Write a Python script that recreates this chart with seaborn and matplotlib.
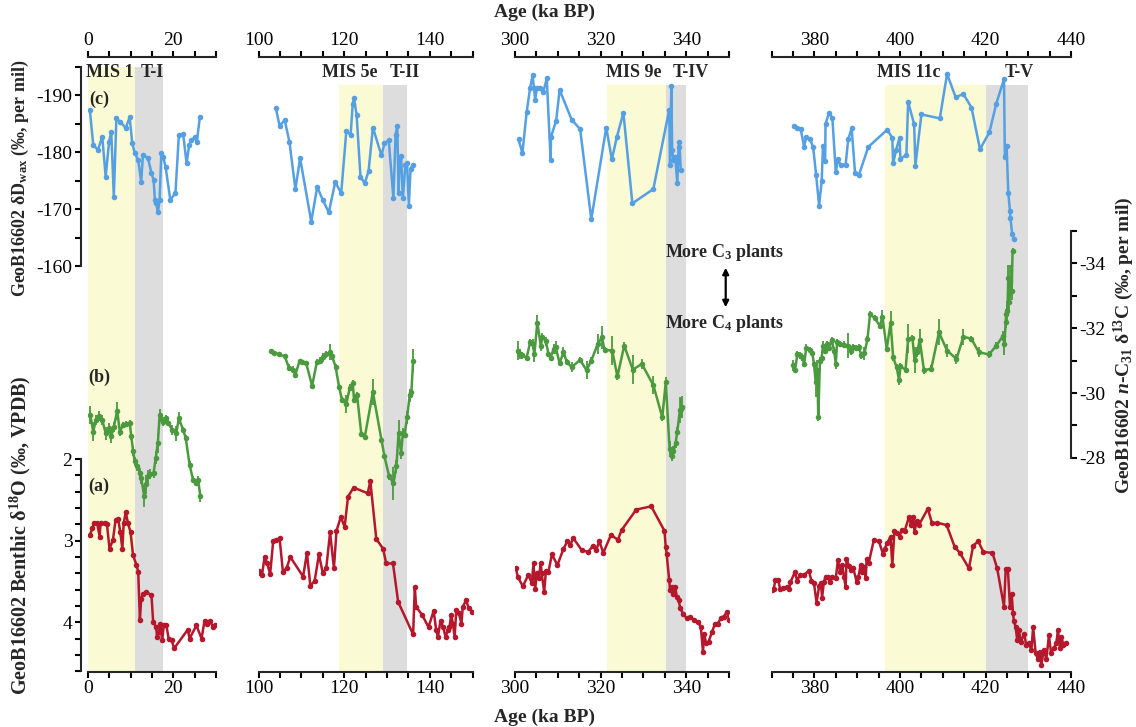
import numpy as np
import matplotlib.pyplot as plt
from matplotlib.patches import FancyArrowPatch
import seaborn as sns

# ---- values (age in ka BP) ----
# panel 1: 0-30 ka
age_dd_1 = [0.5, 1.3, 2.4, 3.4, 4.2, 5.0, 5.5, 6.1, 6.7, 7.6, 8.9, 9.8, 10.4, 11.0, 11.8, 12.5, 12.9, 14.1, 14.9,
            15.4, 15.7, 16.0, 16.4, 16.8, 17.2, 17.6, 18.2, 19.3, 20.5, 21.3, 22.3, 23.1, 23.7, 24.2, 25.0, 25.5, 26.2]
dd_1 = [-187.4, -181.2, -180.4, -182.7, -175.7, -181.8, -183.6, -172.2, -185.9, -185.3, -184.2, -186.1, -181.6,
        -179.8, -178.6, -174.8, -179.5, -178.9, -176.3, -175.1, -171.6, -171.0, -169.4, -171.6, -179.8, -179.2,
        -177.4, -171.6, -172.8, -183.0, -183.2, -178.0, -181.2, -182.1, -182.6, -181.8, -186.1]
age_c_1 = [0.6, 1.3, 1.9, 2.7, 3.4, 4.2, 5.0, 5.5, 6.1, 6.9, 7.5, 8.3, 9.0, 9.8, 10.2, 10.6, 11.0, 11.5, 12.2, 12.5,
           13.2, 13.6, 14.1, 14.6, 15.4, 15.9, 16.4, 16.8, 17.5, 18.2, 18.8, 19.8, 20.7, 21.3, 22.3, 22.9, 23.8,
           24.6, 25.2, 25.8, 26.3]
c_1 = [-29.32, -28.81, -29.17, -29.29, -29.17, -28.76, -28.91, -28.66, -28.96, -29.45, -28.81, -29.02, -29.05,
       -29.07, -28.66, -28.20, -27.89, -27.74, -27.54, -27.38, -26.82, -27.18, -27.43, -27.49, -27.54, -28.0,
       -28.46, -29.32, -29.12, -29.22, -29.07, -28.86, -28.76, -29.22, -28.86, -28.61, -27.79, -27.33, -27.23,
       -27.33, -26.82]
c_err_1 = [0.28, 0.3, 0.15, 0.15, 0.15, 0.2, 0.15, 0.2, 0.15, 0.28, 0.15, 0.1, 0.1, 0.1, 0.1, 0.15, 0.15, 0.15,
           0.15, 0.2, 0.35, 0.3, 0.2, 0.15, 0.15, 0.2, 0.3, 0.2, 0.15, 0.1, 0.1, 0.15, 0.23, 0.18, 0.1, 0.1, 0.1,
           0.1, 0.1, 0.1, 0.18]
age_o_1 = [0.5, 1.1, 1.5, 2.2, 2.8, 3.0, 4.1, 4.5, 5.1, 5.9, 6.5, 7.1, 7.6, 8.1, 8.4, 8.9, 9.4, 10.0, 10.6, 11.4,
           11.8, 12.2, 12.5, 12.9, 13.7, 14.9, 15.3, 16.0, 16.2, 16.7, 17.0, 17.4, 17.8, 18.4, 18.9, 19.6, 20.2,
           23.4, 23.8, 25.4, 26.6, 27.3, 27.9, 28.5, 29.3, 29.7]
o_1 = [2.93, 2.85, 2.78, 2.79, 2.95, 2.78, 2.79, 2.80, 3.10, 2.99, 2.75, 2.73, 2.89, 3.10, 2.79, 2.65, 2.79, 2.89,
       3.18, 3.30, 3.38, 3.97, 3.71, 3.65, 3.63, 3.67, 4.00, 4.06, 4.18, 4.12, 4.02, 4.22, 4.03, 4.04, 4.20, 4.22,
       4.32, 4.09, 4.20, 4.04, 4.20, 3.98, 4.02, 3.98, 4.06, 4.04]

# panel 2: 100-150 ka
age_dd_2 = [104.0, 104.9, 106.1, 107.2, 108.6, 109.7, 112.3, 113.7, 115.0, 116.4, 117.9, 119.3, 120.5, 121.5, 122.0,
            122.3, 122.9, 123.8, 124.8, 125.7, 126.7, 128.7, 129.4, 130.4, 131.5, 132.0, 132.4, 132.7, 133.0, 133.3,
            133.7, 134.3, 134.7, 135.1, 135.5, 136.0]
dd_2 = [-187.8, -184.6, -185.6, -181.8, -173.5, -178.9, -167.8, -173.9, -171.6, -169.4, -174.7, -172.8, -183.7,
        -183.0, -188.5, -189.4, -186.5, -175.7, -174.5, -176.7, -184.3, -179.4, -181.5, -182.1, -171.9, -183.0,
        -184.6, -172.9, -179.2, -179.3, -171.9, -177.8, -178.0, -170.5, -177.1, -177.7]
age_c_2 = [103.0, 103.7, 104.8, 106.1, 107.1, 108.0, 108.6, 109.6, 110.2, 111.1, 112.5, 113.6, 114.4, 115.0, 115.7,
           116.6, 117.2, 118.0, 118.8, 119.5, 120.5, 121.3, 122.0, 122.3, 123.0, 124.0, 124.8, 126.7, 128.7, 129.4,
           130.5, 131.5, 132.2, 132.7, 133.3, 133.7, 134.1, 134.7, 135.3, 135.7, 136.1]
c_2 = [-31.29, -31.24, -31.19, -31.13, -30.78, -30.72, -30.57, -31.0, -30.95, -30.93, -30.22, -30.95, -31.0,
       -31.10, -31.19, -31.26, -31.13, -30.80, -30.19, -29.78, -29.66, -30.17, -30.31, -29.78, -29.93, -28.74,
       -28.64, -30.03, -28.56, -28.05, -27.43, -27.21, -27.74, -28.76, -28.15, -28.76, -28.71, -29.25, -29.93,
       -30.03, -31.0]
c_err_2 = [0.05, 0.05, 0.05, 0.05, 0.1, 0.1, 0.12, 0.05, 0.05, 0.05, 0.1, 0.1, 0.1, 0.15, 0.1, 0.25, 0.1, 0.1,
           0.1, 0.1, 0.28, 0.1, 0.1, 0.1, 0.1, 0.05, 0.05, 0.4, 0.1, 0.1, 0.1, 0.5, 0.2, 0.4, 0.2, 0.15, 0.1, 0.2,
           0.2, 0.1, 0.35]
age_o_2 = [100.1, 100.4, 100.8, 101.4, 102.0, 102.7, 103.4, 104.1, 104.9, 105.7, 106.6, 107.4, 110.4, 111.3, 112.1,
           113.1, 114.1, 115.0, 115.8, 116.7, 117.6, 118.2, 119.2, 120.1, 120.9, 122.2, 125.5, 126.1, 127.5, 129.1,
           129.8, 131.4, 132.6, 136.1, 136.5, 136.8, 138.2, 139.7, 140.9, 141.5, 141.9, 142.5, 143.1, 143.7, 144.2,
           144.6, 145.0, 145.4, 145.8, 146.2, 146.8, 147.4, 147.7, 148.5, 149.1, 149.9]
o_2 = [3.37, 3.40, 3.42, 3.20, 3.28, 3.41, 3.01, 2.99, 2.97, 3.39, 3.33, 3.20, 3.44, 3.15, 3.56, 3.49, 3.17, 3.40,
       3.34, 2.90, 3.34, 2.88, 2.71, 2.83, 2.46, 2.35, 2.42, 2.27, 2.98, 3.10, 3.28, 3.28, 3.75, 4.15, 3.57, 3.81,
       3.91, 4.06, 3.86, 4.10, 4.18, 3.98, 4.06, 4.18, 4.10, 4.06, 3.91, 4.02, 4.18, 3.85, 3.89, 4.02, 3.81, 3.73,
       3.83, 3.87]

# panel 3: 300-350 ka
age_dd_3 = [300.8, 301.7, 302.7, 303.5, 304.1, 304.4, 304.7, 305.1, 305.8, 306.6, 307.4, 308.3, 308.4, 309.6, 310.4,
            313.2, 315.2, 317.8, 321.3, 322.6, 323.8, 325.3, 327.4, 332.3, 336.0, 336.2, 336.5, 336.7, 337.0, 337.4,
            337.9, 338.2, 338.4, 338.7]
dd_3 = [-182.2, -179.8, -187.0, -191.2, -193.5, -191.2, -189.2, -191.3, -191.2, -190.6, -192.9, -178.6, -182.7,
        -185.5, -190.9, -185.7, -184.0, -168.2, -184.3, -178.7, -182.7, -186.9, -171.0, -173.5, -187.4, -177.7,
        -191.6, -180.4, -178.6, -179.2, -174.6, -180.9, -181.8, -176.8]
age_c_3 = [300.6, 301.2, 301.7, 302.7, 303.5, 304.1, 304.5, 305.2, 306.0, 306.4, 307.2, 307.8, 308.3, 309.0, 309.5,
           310.4, 311.3, 312.1, 313.2, 315.2, 316.7, 317.8, 319.3, 320.3, 320.9, 322.7, 323.9, 325.5, 327.5, 329.6,
           332.3, 334.4, 335.2, 336.1, 336.6, 337.0, 337.5, 337.9, 338.5, 338.7, 339.1]
c_3 = [-31.31, -31.21, -31.16, -31.09, -31.56, -31.51, -31.21, -32.17, -31.46, -31.74, -31.59, -31.21, -31.09,
       -31.36, -31.41, -30.92, -31.26, -30.95, -30.80, -31.02, -30.70, -31.0, -31.51, -31.72, -31.33, -31.31,
       -30.51, -31.46, -30.72, -30.90, -30.24, -29.25, -30.34, -28.27, -28.05, -28.20, -28.46, -28.81, -29.47,
       -29.52, -29.57]
c_err_3 = [0.28, 0.15, 0.1, 0.1, 0.1, 0.15, 0.25, 0.25, 0.15, 0.1, 0.15, 0.1, 0.1, 0.15, 0.2, 0.1, 0.15, 0.1, 0.15,
           0.1, 0.28, 0.1, 0.3, 0.35, 0.1, 0.45, 0.1, 0.1, 0.45, 0.15, 0.28, 0.1, 0.15, 0.25, 0.15, 0.15, 0.15, 0.15,
           0.4, 0.3, 0.35]
age_o_3 = [300.2, 300.6, 301.8, 303.1, 303.9, 304.3, 304.7, 305.1, 305.5, 306.0, 306.2, 306.8, 307.2, 307.8, 308.6,
           309.9, 311.3, 312.2, 312.9, 313.6, 315.6, 317.1, 318.2, 318.9, 319.7, 320.6, 322.4, 324.0, 324.9, 328.3,
           331.8, 334.9, 335.2, 335.4, 336.0, 336.2, 336.6, 337.0, 337.4, 337.8, 338.2, 338.6, 339.3, 340.1, 340.9,
           341.7, 342.8, 343.4, 343.9, 344.2, 344.6, 345.2, 346.0, 346.7, 347.3, 348.1, 348.8, 349.5, 350.0]
o_3 = [3.34, 3.44, 3.56, 3.42, 3.52, 3.28, 3.59, 3.40, 3.46, 3.28, 3.40, 3.63, 3.37, 3.38, 3.17, 3.30, 3.10, 3.01,
       3.05, 2.97, 3.12, 3.14, 3.06, 3.12, 3.01, 3.15, 2.93, 2.99, 2.87, 2.62, 2.58, 2.88, 3.08, 3.16, 3.48, 3.61,
       3.57, 3.65, 3.57, 3.69, 3.73, 3.83, 3.90, 3.95, 3.93, 3.97, 4.00, 4.06, 4.36, 4.14, 4.26, 4.24, 4.12, 4.02,
       4.02, 3.95, 3.93, 3.87, 3.97]

# panel 4: 370-440 ka
age_dd_4 = [375.2, 376.0, 376.8, 377.6, 378.1, 379.0, 379.7, 380.4, 381.1, 381.7, 382.0, 382.5, 382.6, 383.4, 384.2,
            385.0, 385.5, 386.1, 387.3, 387.9, 388.7, 389.5, 390.4, 392.6, 397.0, 398.2, 398.4, 399.1, 399.9, 400.1,
            401.5, 401.9, 403.3, 403.6, 405.0, 409.3, 411.0, 413.0, 414.8, 416.7, 418.7, 420.9, 422.5, 424.3, 424.5,
            424.9, 425.3, 425.7, 425.8, 426.2, 426.6]
dd_4 = [-184.6, -184.3, -184.0, -180.9, -182.7, -182.2, -180.9, -176.0, -170.6, -174.9, -181.1, -178.4, -184.9,
        -186.9, -185.9, -176.5, -178.8, -177.7, -177.8, -182.2, -184.2, -176.3, -176.0, -180.9, -183.9, -182.5,
        -178.0, -180.4, -182.5, -178.8, -179.5, -188.8, -184.9, -177.6, -186.6, -185.9, -193.7, -189.6, -190.2,
        -187.8, -180.5, -183.5, -188.5, -192.8, -179.2, -181.1, -172.9, -169.6, -168.4, -165.7, -164.7]
age_c_4 = [375.1, 375.5, 376.0, 376.6, 377.2, 377.6, 378.1, 378.9, 379.5, 379.9, 380.3, 380.7, 380.9, 381.3, 381.7,
           382.0, 382.5, 382.9, 383.4, 384.0, 384.6, 385.0, 385.3, 385.9, 386.9, 387.9, 388.5, 389.0, 389.8, 390.4,
           391.0, 391.7, 392.4, 393.0, 394.1, 395.3, 395.9, 396.9, 397.8, 398.4, 399.2, 399.8, 400.1, 401.3, 401.9,
           402.9, 403.4, 404.0, 404.6, 405.6, 407.3, 409.1, 411.0, 413.2, 414.8, 416.7, 418.4, 420.8, 422.5, 424.1,
           424.4, 424.7, 424.8, 425.1, 425.3, 425.5, 425.8, 426.1, 426.3]
c_4 = [-30.85, -30.72, -31.19, -31.16, -31.10, -30.90, -31.39, -31.33, -31.23, -30.90, -30.34, -30.70, -29.25,
       -31.0, -31.09, -31.46, -31.31, -31.51, -31.39, -31.64, -31.31, -30.90, -31.56, -31.51, -31.49, -31.46,
       -31.31, -31.41, -31.39, -31.41, -31.16, -31.23, -31.67, -32.43, -32.31, -32.07, -32.35, -31.36, -32.17,
       -31.10, -30.80, -30.39, -30.82, -30.72, -31.67, -31.70, -31.02, -31.26, -31.64, -30.70, -30.75, -31.87,
       -31.31, -31.05, -31.74, -31.67, -31.26, -31.19, -31.46, -31.77, -31.51, -32.20, -32.45, -32.53, -33.55,
       -32.80, -33.45, -33.16, -34.39]
c_err_4 = [0.18, 0.1, 0.1, 0.1, 0.1, 0.1, 0.13, 0.1, 0.1, 0.1, 0.45, 0.33, 0.1, 0.1, 0.1, 0.15, 0.1, 0.1, 0.1, 0.1,
           0.1, 0.15, 0.1, 0.1, 0.1, 0.38, 0.15, 0.1, 0.1, 0.1, 0.1, 0.2, 0.1, 0.1, 0.1, 0.1, 0.2, 0.1, 0.35, 0.1,
           0.1, 0.15, 0.1, 0.1, 0.45, 0.1, 0.4, 0.15, 0.33, 0.1, 0.1, 0.4, 0.2, 0.15, 0.25, 0.1, 0.15, 0.1, 0.1,
           0.15, 0.35, 0.2, 0.15, 0.3, 0.4, 0.3, 0.5, 0.3, 0.1]
age_o_4 = [370.0, 370.5, 370.9, 371.5, 372.0, 372.7, 373.5, 374.1, 374.4, 375.4, 376.0, 376.6, 377.6, 378.7, 379.3,
           379.9, 380.5, 381.1, 381.5, 381.8, 382.2, 382.6, 383.2, 383.6, 384.2, 385.0, 385.5, 386.0, 386.5, 386.9,
           387.3, 387.5, 388.1, 388.5, 389.1, 389.9, 390.3, 390.8, 391.2, 391.6, 392.0, 392.2, 392.7, 393.9, 395.1,
           396.0, 396.4, 397.0, 397.8, 398.2, 398.7, 399.4, 399.9, 400.4, 401.1, 402.1, 402.6, 403.1, 403.4, 403.9,
           404.4, 406.5, 407.5, 408.7, 410.9, 412.8, 414.0, 416.1, 417.1, 418.3, 419.5, 421.6, 422.7, 424.3, 424.7,
           425.2, 425.7, 426.1, 426.4, 426.6, 427.0, 427.4, 427.8, 428.2, 429.0, 429.5, 430.1, 430.7, 431.1, 431.7,
           432.2, 432.7, 433.0, 433.6, 434.2, 434.8, 435.3, 436.0, 436.5, 436.9, 437.4, 437.7, 438.2, 438.7]
o_4 = [3.60, 3.59, 3.48, 3.48, 3.59, 3.58, 3.57, 3.59, 3.51, 3.39, 3.49, 3.42, 3.42, 3.37, 3.49, 3.52, 3.76, 3.56,
       3.52, 3.70, 3.51, 3.44, 3.45, 3.51, 3.44, 3.46, 3.24, 3.38, 3.30, 3.44, 3.57, 3.23, 3.31, 3.36, 3.34, 3.51,
       3.44, 3.30, 3.38, 3.32, 3.46, 3.22, 3.27, 2.99, 3.01, 3.16, 3.10, 3.03, 2.95, 3.30, 2.88, 2.91, 2.95, 2.87,
       2.88, 2.71, 2.81, 2.71, 2.89, 2.76, 2.81, 2.61, 2.79, 2.78, 2.81, 3.08, 3.15, 3.34, 3.06, 3.01, 3.14, 3.15,
       3.34, 3.81, 3.35, 3.35, 3.81, 3.65, 3.89, 3.98, 4.06, 4.22, 4.10, 4.24, 4.14, 4.28, 4.26, 4.34, 4.06, 4.38,
       4.45, 4.36, 4.53, 4.34, 4.45, 4.16, 4.38, 4.31, 4.26, 4.10, 4.32, 4.18, 4.28, 4.25]

x_ranges = [(0, 30), (100, 150), (300, 350), (370, 440)]
mis_spans = [(0, 11), (118.7, 129.1), (321.4, 335.3), (396.5, 420)]
term_spans = [(11, 17.7), (129.1, 134.6), (335.3, 340), (420, 430)]
mis_labels = ['MIS 1', 'MIS 5e', 'MIS 9e', 'MIS 11c']
term_labels = ['T-I', 'T-II', 'T-IV', 'T-V']
mis_text_x = [5.1, 121.4, 327.7, 402.1]
term_text_x = [15.0, 134.1, 341.1, 427.9]

series = [
    ((age_o_1, o_1), (age_dd_1, dd_1), (age_c_1, c_1, c_err_1)),
    ((age_o_2, o_2), (age_dd_2, dd_2), (age_c_2, c_2, c_err_2)),
    ((age_o_3, o_3), (age_dd_3, dd_3), (age_c_3, c_3, c_err_3)),
    ((age_o_4, o_4), (age_dd_4, dd_4), (age_c_4, c_4, c_err_4)),
]

sns.set_theme(style='ticks')
plt.rcParams['font.family'] = ['Liberation Serif', 'DejaVu Serif']
plt.rcParams['axes.unicode_minus'] = False
plt.rcParams['mathtext.fontset'] = 'custom'
plt.rcParams['mathtext.rm'] = 'Liberation Serif'
plt.rcParams['mathtext.it'] = 'Liberation Serif:italic'
plt.rcParams['mathtext.bf'] = 'Liberation Serif:bold'
plt.rcParams['mathtext.bfit'] = 'Liberation Serif:italic:bold'

BLUE = '#559fe3'
GREEN = '#4b9a3f'
RED = '#b5172c'
YELLOW = '#fafad4'
GREY = '#dddddd'

W, H = 1136, 727
px_per_ka = 4.28
y_top, y_bot = 57, 672
fig = plt.figure(figsize=(W / 100, H / 100), dpi=100)

tick_fs = 14
line_kw = dict(marker='o', markersize=4, markeredgewidth=0, linewidth=1.8, sort=False, estimator=None)

left_px = 87.7
for i, (x0, x1) in enumerate(x_ranges):
    width = (x1 - x0) * px_per_ka
    rect = [left_px / W, 1 - y_bot / H, width / W, (y_bot - y_top) / H]
    left_px += width + 42.5

    ax = fig.add_axes(rect)
    ax_d = ax.twinx()
    ax_c = ax.twinx()

    shade_top = 0.984 if i == 0 else 0.955
    ax.axvspan(*mis_spans[i], ymax=shade_top, color=YELLOW, lw=0, zorder=0)
    ax.axvspan(*term_spans[i], ymax=shade_top, color=GREY, lw=0, zorder=0)
    ax.text(mis_text_x[i], 0.974, mis_labels[i], transform=ax.get_xaxis_transform(),
            ha='center', va='center', fontsize=13, fontweight='bold')
    ax.text(term_text_x[i], 0.974, term_labels[i], transform=ax.get_xaxis_transform(),
            ha='center', va='center', fontsize=13, fontweight='bold')

    (ao, o), (ad, d), (ac, c, ce) = series[i]
    sns.lineplot(x=ao, y=o, ax=ax, color=RED, **line_kw)
    sns.lineplot(x=ad, y=d, ax=ax_d, color=BLUE, **line_kw)
    ax_c.errorbar(ac, c, yerr=ce, fmt='none', ecolor=GREEN, elinewidth=1.3, capsize=0)
    sns.lineplot(x=ac, y=c, ax=ax_c, color=GREEN, **line_kw)

    ax.set_xlim(x0, x1)
    ax.set_ylim(4.61, -2.926)
    ax_d.set_ylim(-88.8, -196.67)
    ax_c.set_ylim(-21.39, -40.37)

    for a in (ax, ax_d, ax_c):
        a.set_xlabel('')
        a.set_ylabel('')
        for s in a.spines.values():
            s.set_visible(False)
            s.set_linewidth(1.5)
        a.tick_params(width=1.5, length=4, labelsize=tick_fs, direction='out', colors='black', pad=2)

    # x axes top and bottom
    ax.spines['top'].set_visible(True)
    ax.spines['bottom'].set_visible(True)
    xt = np.arange(x0, x1 + 1, 5)
    ax.set_xticks(xt)
    ax.set_xticklabels([f'{v:.0f}' if v % 20 == 0 else '' for v in xt])
    ax.tick_params(axis='x', top=True, labeltop=True, bottom=True, labelbottom=True)

    # y axes
    if i == 0:
        ax.spines['left'].set_visible(True)
        ax.spines['left'].set_bounds(2, 4.6)
        ax.spines['left'].set_position(('outward', 5))
        yt = np.round(np.arange(2, 4.61, 0.2), 1)
        ax.set_yticks(yt)
        ax.set_yticklabels([f'{v:.0f}' if abs(v - round(v)) < 1e-6 else '' for v in yt])
        ax.tick_params(axis='y', left=True, labelleft=True, right=False, labelright=False)

        ax_d.yaxis.tick_left()
        ax_d.spines['left'].set_visible(True)
        ax_d.spines['left'].set_bounds(-195, -160)
        ax_d.spines['left'].set_position(('outward', 5))
        dt = np.arange(-195, -159, 5)
        ax_d.set_yticks(dt)
        ax_d.set_yticklabels([f'{v}' if v % 10 == 0 else '' for v in dt])
        ax_d.tick_params(axis='y', left=True, labelleft=True, right=False, labelright=False)
    else:
        ax.tick_params(axis='y', left=False, labelleft=False, right=False, labelright=False)
        ax_d.tick_params(axis='y', left=False, labelleft=False, right=False, labelright=False)

    if i == len(x_ranges) - 1:
        ax_c.spines['right'].set_visible(True)
        ax_c.spines['right'].set_bounds(-35, -28)
        ct = np.arange(-35, -27, 1)
        ax_c.set_yticks(ct)
        ax_c.set_yticklabels([f'{v}' if v % 2 == 0 else '' for v in ct])
        ax_c.tick_params(axis='y', right=True, labelright=True, left=False, labelleft=False)
    else:
        ax_c.tick_params(axis='y', left=False, labelleft=False, right=False, labelright=False)

# ---- annotations ----
bold = dict(fontweight='bold', ha='center', va='center')
fig.text(545 / W, 1 - 12 / H, 'Age (ka BP)', fontsize=14, **bold)
fig.text(545 / W, 1 - 717 / H, 'Age (ka BP)', fontsize=14, **bold)
fig.text(20 / W, 1 - 178 / H, r'GeoB16602 δD$_{\mathbf{wax}}$ (‰, per mil)', rotation=90, fontsize=13, **bold)
fig.text(20 / W, 1 - 535 / H, r'GeoB16602 Benthic δ$^{\mathbf{18}}$O (‰, VPDB)', rotation=90, fontsize=14.5, **bold)
fig.text(1124 / W, 1 - 345 / H, r'GeoB16602 $\mathbfit{n}$-C$_{\mathbf{31}}$ δ$^{\mathbf{13}}$C (‰, per mil)',
         rotation=90, fontsize=14, **bold)
fig.text(99 / W, 1 - 99 / H, '(c)', fontsize=13, **bold)
fig.text(99 / W, 1 - 377 / H, '(b)', fontsize=13, **bold)
fig.text(99 / W, 1 - 486 / H, '(a)', fontsize=13, **bold)
fig.text(665 / W, 1 - 252 / H, r'More C$_{\mathbf{3}}$ plants', fontsize=13, fontweight='bold', ha='left', va='center')
fig.text(665 / W, 1 - 323 / H, r'More C$_{\mathbf{4}}$ plants', fontsize=13, fontweight='bold', ha='left', va='center')
fig.add_artist(FancyArrowPatch((725.7 / W, 1 - 265 / H), (725.7 / W, 1 - 310 / H), transform=fig.transFigure,
                               arrowstyle='<|-|>', mutation_scale=9, lw=1.6, color='black'))

fig.savefig('out.png', dpi=100)
